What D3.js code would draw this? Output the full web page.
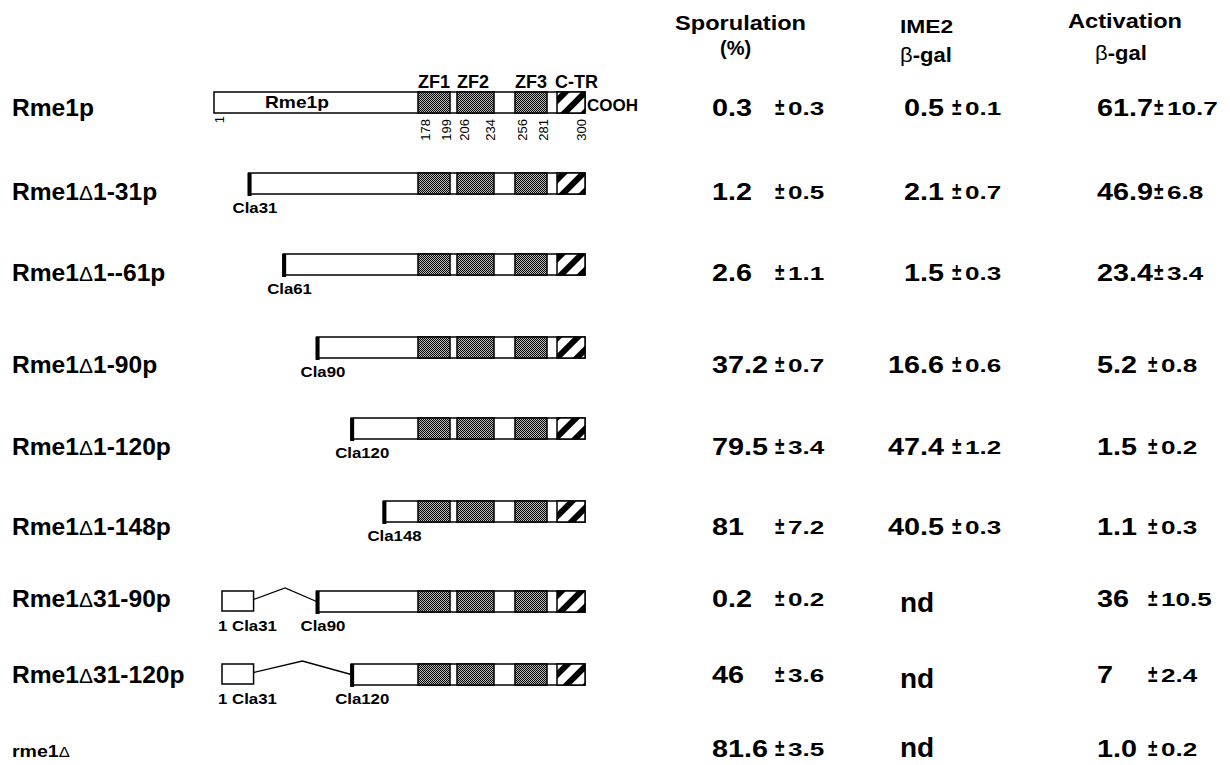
<!DOCTYPE html>
<html>
<head>
<meta charset="utf-8">
<script src="https://cdn.jsdelivr.net/npm/d3@7/dist/d3.min.js"></script>
<style>
  body { margin: 0; background: #fff; }
  text { font-family: "Liberation Sans", Arial, sans-serif; fill: #000; }
</style>
</head>
<body>
<div id="chart"></div>
<script>
// constructs, one per row
var constructs = ["Rme1p", "Rme1Δ1-31p", "Rme1Δ1--61p", "Rme1Δ1-90p", "Rme1Δ1-120p",
  "Rme1Δ1-148p", "Rme1Δ31-90p", "Rme1Δ31-120p", "rme1Δ"];
var startRes = [1, 31, 61, 90, 120, 148, 90, 120, null];
var keptNterm = [null, null, null, null, null, null, 31, 31, null];
var claLabels = [null, "Cla31", "Cla61", "Cla90", "Cla120", "Cla148", "Cla90", "Cla120", null];

// table values
var sporulation = ["0.3", "1.2", "2.6", "37.2", "79.5", "81", "0.2", "46", "81.6"];
var sporulationErr = ["0.3", "0.5", "1.1", "0.7", "3.4", "7.2", "0.2", "3.6", "3.5"];
var ime2 = ["0.5", "2.1", "1.5", "16.6", "47.4", "40.5", "nd", "nd", "nd"];
var ime2Err = ["0.1", "0.7", "0.3", "0.6", "1.2", "0.3", null, null, null];
var activation = ["61.7", "46.9", "23.4", "5.2", "1.5", "1.1", "36", "7", "1.0"];
var activationErr = ["10.7", "6.8", "3.4", "0.8", "0.2", "0.3", "10.5", "2.4", "0.2"];

// protein domains
var domainNames = ["ZF1", "ZF2", "ZF3", "C-TR"];
var domainStart = [178, 206, 256, 286];
var domainEnd = [199, 234, 281, 300];
var residueTicks = [178, 199, 206, 234, 256, 281, 300];
var proteinEnd = 300;

var width = 1230, height = 765;

var svg = d3.select("#chart").append("svg")
  .attr("width", width)
  .attr("height", height);

var defs = svg.append("defs");
// stippled zinc finger fill
var st = defs.append("pattern").attr("id", "stipple")
  .attr("patternUnits", "userSpaceOnUse").attr("width", 2).attr("height", 2);
st.append("rect").attr("width", 2).attr("height", 2).attr("fill", "#b8b8b8");
st.append("rect").attr("width", 1).attr("height", 1).attr("fill", "#000");
st.append("rect").attr("x", 1).attr("y", 1).attr("width", 1).attr("height", 1).attr("fill", "#000");
// hatched C-TR
var ht = defs.append("pattern").attr("id", "hatch")
  .attr("patternUnits", "userSpaceOnUse").attr("width", 14).attr("height", 14)
  .attr("patternTransform", "rotate(45)");
ht.append("rect").attr("width", 14).attr("height", 14).attr("fill", "#fff");
ht.append("rect").attr("width", 6).attr("height", 14).attr("fill", "#000");

// schematic residue -> x (not to scale in the C-terminal part)
var x = d3.scaleLinear()
  .domain([1, 178, 199, 206, 234, 256, 281, 286, 300])
  .range([214, 418, 450, 457, 494, 515, 547, 557, 585]);

// row layout
var rowIdx = d3.range(constructs.length);
var textY = d3.scaleLinear().domain(rowIdx)
  .range([116, 200, 281, 373, 455, 535, 607, 683, 757]);
var barY = d3.scaleLinear().domain(rowIdx.slice(0, 8))
  .range([92, 173, 254, 337, 418, 501, 591, 664]);
var barH = 21;

function addText(parent, px, py, str, size, sx, weight, anchor) {
  return parent.append("text")
    .attr("transform", "translate(" + px + "," + py + ") scale(" + sx + ",1)")
    .attr("text-anchor", anchor || "start")
    .style("font-size", size + "px")
    .style("font-weight", weight || "bold")
    .text(str);
}

// headers
addText(svg, 675, 30, "Sporulation", 20, 1.18);
addText(svg, 720, 55, "(%)", 20, 1.0);
addText(svg, 900, 33, "IME2", 19, 1.2);
var bg1 = addText(svg, 900, 62, "", 20, 1.1);
bg1.append("tspan").style("font-weight", "normal").text("β");
bg1.append("tspan").text("-gal");
addText(svg, 1068, 28, "Activation", 20, 1.18);
var bg2 = addText(svg, 1095, 60, "", 20, 1.1);
bg2.append("tspan").style("font-weight", "normal").text("β");
bg2.append("tspan").text("-gal");

// row labels
var labels = svg.append("g");
constructs.forEach(function(name, i) {
  var last = i === constructs.length - 1;
  var t = addText(labels, 12, textY(i), "", last ? 17 : 23, last ? 1.15 : 1.07);
  var parts = name.split("Δ");
  t.append("tspan").text(parts[0]);
  if (parts.length > 1) {
    t.append("tspan").style("font-weight", "normal").style("font-size", "0.85em").text("Δ");
    if (parts[1]) t.append("tspan").text(parts[1]);
  }
});

// diagrams
var diag = svg.append("g");
rowIdx.forEach(function(i) {
  if (startRes[i] == null) return;
  var top = barY(i);
  var g = diag.append("g");
  var x0 = x(startRes[i]);

  if (keptNterm[i]) {
    var bx0 = x(1) + 8, bx1 = x(keptNterm[i]) + 5;
    g.append("rect").attr("x", bx0).attr("y", top).attr("width", bx1 - bx0).attr("height", barH - 1)
      .attr("fill", "#fff").attr("stroke", "#000").attr("stroke-width", 1.5);
    g.append("path")
      .attr("d", "M" + bx1 + "," + (top + barH / 2 - 2) + "L" + ((bx1 + x0) / 2) + "," + (top - 3) +
        "L" + x0 + "," + (top + barH / 2))
      .attr("fill", "none").attr("stroke", "#000").attr("stroke-width", 1.3);
    addText(g, bx0 - 4, top + barH + 19, "1 Cla" + keptNterm[i], 14, 1.2);
  }

  g.append("rect").attr("x", x0).attr("y", top)
    .attr("width", x(proteinEnd) - x0).attr("height", barH)
    .attr("fill", "#fff").attr("stroke", "#000").attr("stroke-width", 1.5);

  domainNames.forEach(function(d, j) {
    g.append("rect")
      .attr("x", x(domainStart[j])).attr("y", top)
      .attr("width", x(domainEnd[j]) - x(domainStart[j])).attr("height", barH)
      .attr("fill", d === "C-TR" ? "url(#hatch)" : "url(#stipple)")
      .attr("stroke", "#000").attr("stroke-width", 1.5);
  });

  if (i > 0) {
    g.append("rect").attr("x", x0 - 1).attr("y", top).attr("width", 4).attr("height", barH + 2)
      .attr("fill", "#000");
    addText(g, x0 - 16, top + barH + 19, claLabels[i], 14, 1.2);
  } else {
    // full-length protein: annotations
    domainNames.forEach(function(d, j) {
      addText(g, x(domainStart[j]) - (d === "C-TR" ? 2 : 0), top - 4, d, 18, 1.0);
    });
    addText(g, x(proteinEnd) + 2, top + barH - 2, "COOH", 17, 1.0);
    addText(g, x(1) + 51, top + barH - 5, "Rme1p", 16, 1.2);
    var tickG = g.append("g");
    var ticks = [1].concat(residueTicks);
    ticks.forEach(function(r) {
      var isStart = domainStart.indexOf(r) >= 0;
      var tx = r === 1 ? x(r) + 5 : x(r) + (isStart ? 7 : -4);
      tickG.append("text")
        .attr("transform", "translate(" + tx + "," + (r === 1 ? 116 : top + barH + 6) + ") rotate(-90)")
        .attr("text-anchor", "end")
        .attr("dy", "0.35em")
        .style("font-size", "13px")
        .text(r);
    });
  }
});

// value columns
var columns = [
  { vals: sporulation, errs: sporulationErr, x: 712, anchor: "start", pmMin: 775, pmGap: 1 },
  { vals: ime2, errs: ime2Err, x: 944, anchor: "end", pmMin: 0, pmGap: 8 },
  { vals: activation, errs: activationErr, x: 1097, anchor: "start", pmMin: 1148, pmGap: 1 }
];
var mainSize = 24, mainSx = 1.2, smallSize = 18, smallSx = 1.45;

var table = svg.append("g");
columns.forEach(function(col) {
  col.vals.forEach(function(v, i) {
    var y = textY(i);
    if (v === "nd") {
      addText(table, 900, Math.min(y + 5, 757), v, 28, 1.0);
      return;
    }
    var t = addText(table, col.x, y, v, mainSize, mainSx, "bold", col.anchor);
    var w = t.node().getComputedTextLength() * mainSx;
    var end = col.anchor === "end" ? col.x : col.x + w;
    var pmX = Math.max(col.pmMin, end + col.pmGap);
    addText(table, pmX, y - 1, "±", 23, 0.75);
    if (col.errs[i] != null) addText(table, pmX + 13, y - 1, col.errs[i], smallSize, smallSx);
  });
});
</script>
</body>
</html>
